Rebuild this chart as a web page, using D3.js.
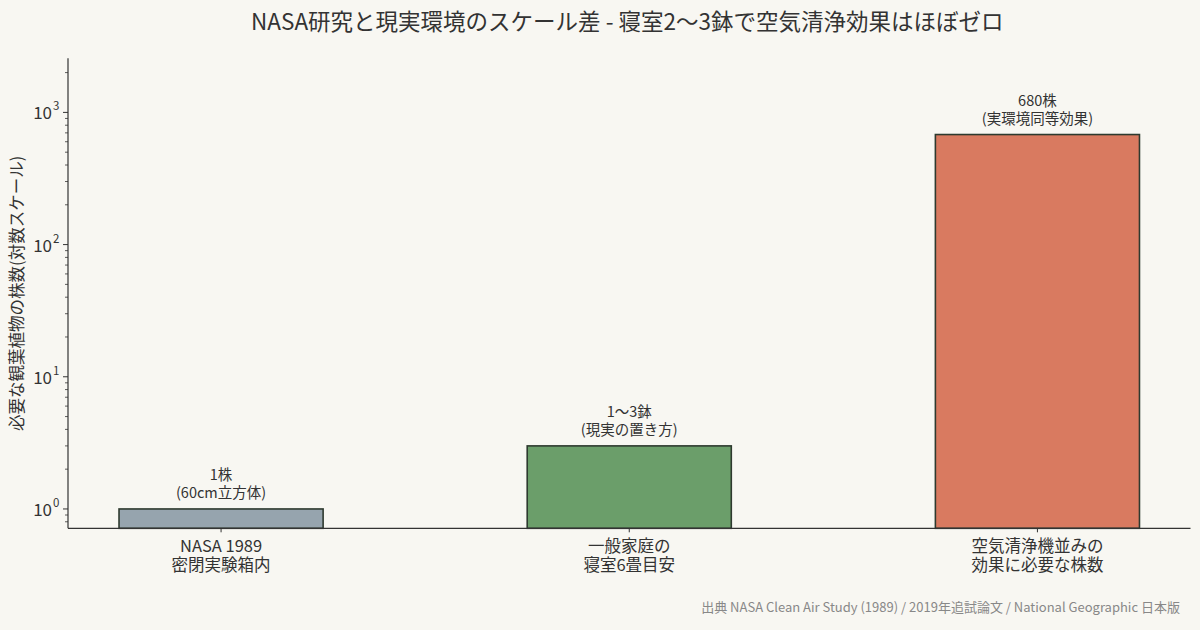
<!DOCTYPE html>
<html><head><meta charset="utf-8">
<script src="https://cdn.jsdelivr.net/npm/d3@7"></script>
<style>
html,body{margin:0;padding:0;background:#f8f7f2;}
text{font-family:"Noto Sans CJK JP","Noto Sans",sans-serif;}
</style></head>
<body><svg id="c" width="1200" height="630"></svg>
<script>
const categories = [["NASA 1989","密閉実験箱内"],["一般家庭の","寝室6畳目安"],["空気清浄機並みの","効果に必要な株数"]];
const values = [1, 3, 680];
const barLabels = [["1株","(60cm立方体)"],["1〜3鉢","(現実の置き方)"],["680株","(実環境同等効果)"]];
const barColors = ["#96a4ae","#6b9e6a","#d97a60"];
const yTicks = [1, 10, 100, 1000];
const title = "NASA研究と現実環境のスケール差 - 寝室2〜3鉢で空気清浄効果はほぼゼロ";
const yLabel = "必要な観葉植物の株数(対数スケール)";
const source = "出典 NASA Clean Air Study (1989) / 2019年追試論文 / National Geographic 日本版";

const svg = d3.select("#c");
svg.append("rect").attr("width",1200).attr("height",630).attr("fill","#f8f7f2");
const L=68,R=1190.5,T=58.3,B=528.3;
const x = d3.scaleLinear().domain([-0.375, 2.375]).range([L,R]);
const y = d3.scaleLog().domain([0.714, 2566]).range([B,T]);
const bw = 0.5;
const ink="#333";

// bars
svg.selectAll("rect.bar").data(values).enter().append("rect")
  .attr("x",(d,i)=>x(i-bw/2)).attr("width",(d,i)=>x(i+bw/2)-x(i-bw/2))
  .attr("y",d=>y(d)).attr("height",d=>B-y(d))
  .attr("fill",(d,i)=>barColors[i]).attr("stroke","#2e3a2f").attr("stroke-width",1.6);

// bar labels
values.forEach((v,i)=>{
  svg.append("text").attr("x",x(i)).attr("y",y(v)-29).attr("text-anchor","middle")
    .attr("font-size",14.5).attr("fill",ink).text(barLabels[i][0]);
  svg.append("text").attr("x",x(i)).attr("y",y(v)-11).attr("text-anchor","middle")
    .attr("font-size",14.5).attr("fill",ink).text(barLabels[i][1]);
});

// y axis
const minor=[];
for(let e=-1;e<4;e++) for(let k=2;k<10;k++){const v=k*Math.pow(10,e); if(v>=0.714&&v<=2566) minor.push(v);}
const ya=svg.append("g");
ya.selectAll("line.mn").data(minor).enter().append("line")
  .attr("x1",L-3).attr("x2",L).attr("y1",d=>y(d)).attr("y2",d=>y(d)).attr("stroke",ink).attr("stroke-width",0.8);
ya.selectAll("line.mj").data(yTicks).enter().append("line")
  .attr("x1",L-5).attr("x2",L).attr("y1",d=>y(d)).attr("y2",d=>y(d)).attr("stroke",ink).attr("stroke-width",1);
yTicks.forEach(v=>{
  ya.append("text").attr("x",L-16).attr("y",y(v)+7).attr("text-anchor","end").attr("font-size",17).attr("fill",ink).text("10");
  ya.append("text").attr("x",L-15).attr("y",y(v)-2).attr("text-anchor","start").attr("font-size",11.5).attr("fill",ink)
    .text(Math.round(Math.log10(v)));
});
svg.append("line").attr("x1",L).attr("x2",L).attr("y1",T).attr("y2",B).attr("stroke",ink).attr("stroke-width",1.2);
svg.append("line").attr("x1",L).attr("x2",R).attr("y1",B).attr("y2",B).attr("stroke",ink).attr("stroke-width",1.2);

// x ticks & labels
categories.forEach((c,i)=>{
  svg.append("line").attr("x1",x(i)).attr("x2",x(i)).attr("y1",B).attr("y2",B+4).attr("stroke",ink);
  svg.append("text").attr("x",x(i)).attr("y",B+24).attr("text-anchor","middle").attr("font-size",16.5).attr("fill",ink).text(c[0]);
  svg.append("text").attr("x",x(i)).attr("y",B+43).attr("text-anchor","middle").attr("font-size",16.5).attr("fill",ink).text(c[1]);
});

svg.append("text").attr("transform",`translate(23,${(T+B)/2}) rotate(-90)`).attr("text-anchor","middle")
  .attr("font-size",16.5).attr("fill",ink).text(yLabel);
svg.append("text").attr("x",(L+R)/2 - 2).attr("y",30).attr("text-anchor","middle").attr("font-size",22.5).attr("fill",ink).text(title);
svg.append("text").attr("x",1180).attr("y",612).attr("text-anchor","end").attr("font-size",13).attr("fill","#888").text(source);
</script></body></html>
